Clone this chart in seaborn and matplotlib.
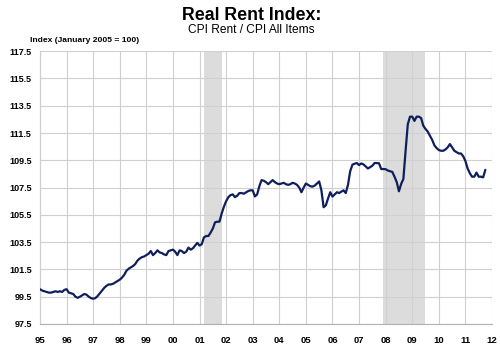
import pandas as pd
import numpy as np
import matplotlib
matplotlib.use("Agg")
import matplotlib.pyplot as plt
import seaborn as sns

# monthly real rent index, Jan 1995 - Oct 2011
values_by_year = {
    1995: [100.05, 99.95, 99.9, 99.85, 99.8, 99.8, 99.85, 99.9, 99.85, 99.9, 99.85, 100.0],
    1996: [100.05, 99.8, 99.75, 99.7, 99.5, 99.42, 99.5, 99.6, 99.7, 99.65, 99.5, 99.4],
    1997: [99.35, 99.4, 99.55, 99.75, 99.95, 100.15, 100.3, 100.4, 100.4, 100.45, 100.55, 100.65],
    1998: [100.75, 100.9, 101.1, 101.4, 101.55, 101.65, 101.75, 101.9, 102.15, 102.3, 102.4, 102.45],
    1999: [102.55, 102.65, 102.85, 102.55, 102.7, 102.9, 102.75, 102.7, 102.6, 102.55, 102.85, 102.9],
    2000: [102.95, 102.8, 102.55, 102.9, 102.85, 102.7, 102.8, 103.1, 102.95, 103.05, 103.25, 103.45],
    2001: [103.25, 103.35, 103.85, 103.95, 103.95, 104.2, 104.5, 104.95, 105.0, 105.0, 105.6, 106.1],
    2002: [106.5, 106.8, 106.95, 107.0, 106.8, 106.9, 107.1, 107.1, 107.05, 107.15, 107.25, 107.3],
    2003: [107.3, 106.85, 107.0, 107.6, 108.05, 108.0, 107.9, 107.75, 107.9, 108.05, 107.9, 107.8],
    2004: [107.75, 107.8, 107.85, 107.75, 107.7, 107.75, 107.85, 107.8, 107.7, 107.5, 107.16, 107.5],
    2005: [107.8, 107.7, 107.6, 107.57, 107.65, 107.8, 107.95, 107.3, 106.06, 106.2, 106.7, 107.16],
    2006: [106.84, 107.0, 107.16, 107.1, 107.2, 107.3, 107.1, 107.7, 108.7, 109.18, 109.25, 109.3],
    2007: [109.15, 109.27, 109.2, 109.05, 108.9, 109.0, 109.1, 109.3, 109.3, 109.28, 108.86, 108.86],
    2008: [108.85, 108.75, 108.7, 108.65, 108.3, 107.9, 107.23, 107.77, 108.13, 110.2, 112.15, 112.7],
    2009: [112.7, 112.39, 112.7, 112.7, 112.6, 112.03, 111.8, 111.6, 111.3, 111.0, 110.6, 110.4],
    2010: [110.25, 110.2, 110.2, 110.3, 110.45, 110.69, 110.45, 110.2, 110.1, 110.0, 110.0, 109.8],
    2011: [109.45, 108.9, 108.55, 108.3, 108.3, 108.6, 108.3, 108.3, 108.25, 108.8],
}

recessions = [(2001.17, 2001.84), (2007.9, 2009.47)]
year_ticks = list(range(1995, 2013))
year_labels = [str(y)[2:] for y in year_ticks]
y_ticks = [97.5, 99.5, 101.5, 103.5, 105.5, 107.5, 109.5, 111.5, 113.5, 115.5, 117.5]

rows = []
for yr, vals in values_by_year.items():
    for m, v in enumerate(vals):
        rows.append({"t": yr + m / 12.0, "index": v})
df = pd.DataFrame(rows)

sns.set_style("white")
plt.rcParams["font.family"] = ["Liberation Sans", "DejaVu Sans"]
plt.rcParams["text.color"] = "black"
plt.rcParams["xtick.color"] = "#b0b0b0"
plt.rcParams["ytick.color"] = "#b0b0b0"

fig = plt.figure(figsize=(5, 3.58), dpi=100)
ax = fig.add_axes([0.08, 0.095, 0.904, 0.762])

for a, b in recessions:
    ax.axvspan(a, b, color="#dcdcdc", lw=0, zorder=0.2)

sns.lineplot(data=df, x="t", y="index", ax=ax, color="#0f1f5c", lw=1.6, zorder=3)

ax.set_xlim(1995, 2012)
ax.set_ylim(97.5, 117.5)
ax.set_xticks(year_ticks)
ax.set_xticklabels(year_labels, fontsize=6.8, fontweight="bold", color="black")
ax.set_yticks(y_ticks)
ax.set_yticklabels([f"{v:.1f}" for v in y_ticks], fontsize=6.5, fontweight="bold", color="black")
ax.grid(True, color="#d0d0d0", lw=0.8, zorder=1)
ax.set_axisbelow(False)
for gl in ax.get_xgridlines() + ax.get_ygridlines():
    gl.set_zorder(1)
ax.tick_params(axis="both", length=3, width=0.8, direction="out")
ax.tick_params(axis="x", pad=6)
ax.tick_params(axis="y", pad=3)
ax.set_xlabel("")
ax.set_ylabel("")
for s in ["top", "right"]:
    ax.spines[s].set_visible(False)
for s in ["left", "bottom"]:
    ax.spines[s].set_color("#b0b0b0")
    ax.spines[s].set_linewidth(0.8)

fig.text(0.504, 0.958, "Real Rent Index:", ha="center", va="center",
         fontsize=12.8, fontweight="bold")
fig.text(0.502, 0.916, "CPI Rent / CPI All Items", ha="center", va="center", fontsize=8.6)
fig.text(0.06, 0.886, "Index (January 2005 = 100)", ha="left", va="center",
         fontsize=6.1, fontweight="bold")

fig.savefig("out.png", dpi=100)
